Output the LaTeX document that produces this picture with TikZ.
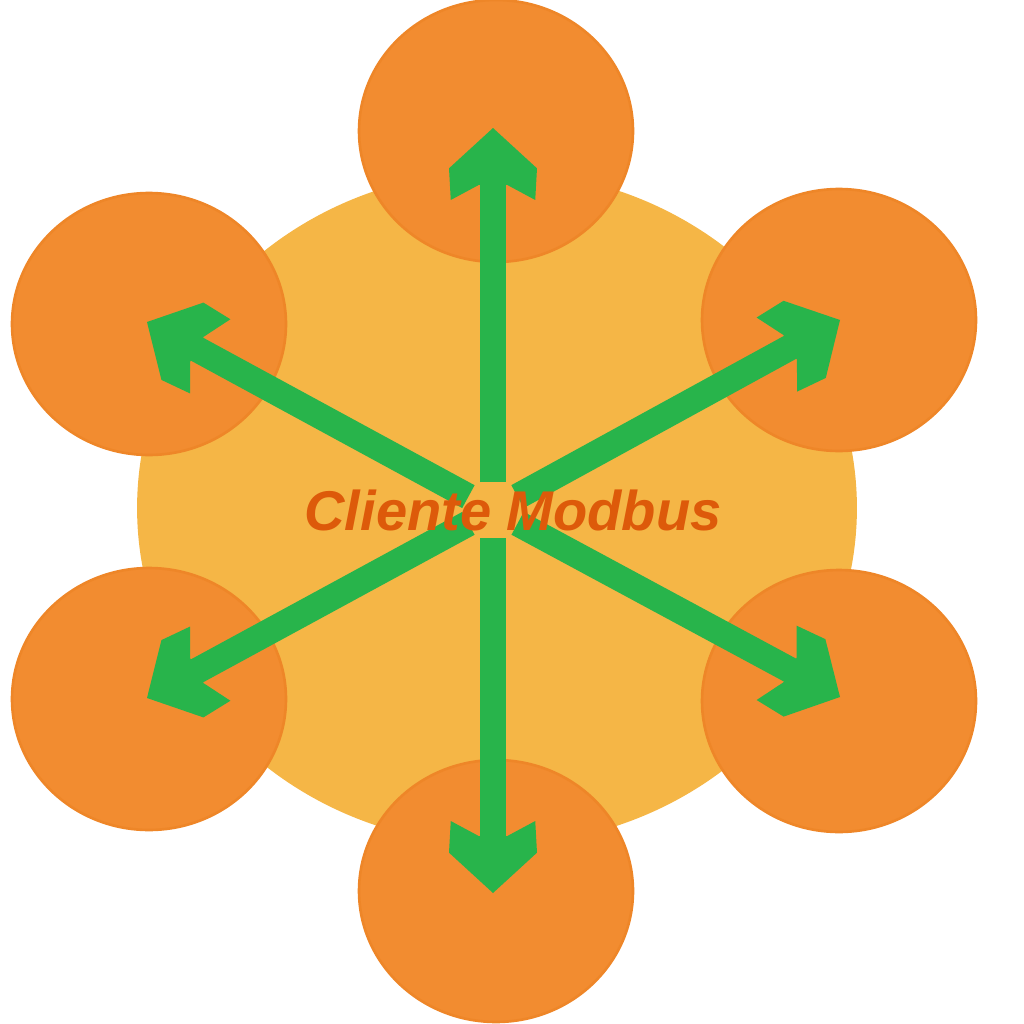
\documentclass[tikz,border=0pt]{standalone}
\usepackage{fontspec}
\newfontfamily\labfont{Liberation Sans}
\usetikzlibrary{arrows.meta,shapes.geometric}
\definecolor{hubcol}{HTML}{F5B646}
\definecolor{nodecol}{HTML}{F28C30}
\definecolor{nodeedge}{HTML}{EE8628}
\definecolor{arrcol}{HTML}{28B44B}
\definecolor{txtcol}{HTML}{DD5A0A}
\pgfdeclarearrow{
  name = Chev,
  parameters = {\the\pgfarrowlength,\the\pgfarrowwidth},
  setup code = {
    \pgfarrowssettipend{0pt}
    \pgfarrowssetbackend{-\pgfarrowlength}
    \pgfarrowssetlineend{-0.6\pgfarrowlength}
    \pgfarrowssavethe\pgfarrowlength
    \pgfarrowssavethe\pgfarrowwidth
  },
  drawing code = {
    \pgfpathmoveto{\pgfpointorigin}
    \pgfpathlineto{\pgfpoint{-0.56\pgfarrowlength}{0.5\pgfarrowwidth}}
    \pgfpathlineto{\pgfpoint{-\pgfarrowlength}{0.48\pgfarrowwidth}}
    \pgfpathlineto{\pgfpoint{-0.79\pgfarrowlength}{0.16\pgfarrowwidth}}
    \pgfpathlineto{\pgfpoint{-0.79\pgfarrowlength}{-0.16\pgfarrowwidth}}
    \pgfpathlineto{\pgfpoint{-\pgfarrowlength}{-0.48\pgfarrowwidth}}
    \pgfpathlineto{\pgfpoint{-0.56\pgfarrowlength}{-0.5\pgfarrowwidth}}
    \pgfpathclose
    \pgfusepathqfill
  },
  defaults = {length=1.44cm, width=1.76cm}
}
\begin{document}
\begin{tikzpicture}[x=0.02cm,y=-0.02cm,
  hub/.style={ellipse,fill=hubcol,inner sep=0pt,minimum width=14.4cm,minimum height=13.48cm},
  slave/.style={ellipse,fill=nodecol,draw=nodeedge,line width=1.5pt,inner sep=0pt,minimum width=5.48cm,minimum height=5.24cm},
  link/.style={draw=arrcol,line width=0.52cm,-{Chev[fill=arrcol]},shorten <=0.56cm},
  label/.style={font=\labfont\bfseries\itshape\fontsize{31.9pt}{36pt}\selectfont,text=txtcol,inner sep=0pt}
]
\useasboundingbox (0,0) rectangle (1024,1024);
\node[hub] (hubnode) at (497,508) {};
\node[slave] (t)  at (496,131) {};
\node[slave] (ul) at (149,324) {};
\node[slave] (ur) at (839,320) {};
\node[slave] (ll) at (149,699) {};
\node[slave] (lr) at (839,701) {};
\node[slave] (b)  at (496,891) {};
\coordinate (c) at (493,510);
\coordinate (tt) at (493,128);
\coordinate (tul) at (147,322);
\coordinate (tur) at (840,320);
\coordinate (tll) at (147,698);
\coordinate (tlr) at (840,697);
\coordinate (tb) at (493,893);
\draw[link] (c) -- (tt);
\draw[link] (c) -- (tul);
\draw[link] (c) -- (tur);
\draw[link] (c) -- (tll);
\draw[link] (c) -- (tlr);
\draw[link] (c) -- (tb);
\node[label,anchor=base] (lab) at (513,530) {Cliente Modbus};
\end{tikzpicture}
\end{document}
